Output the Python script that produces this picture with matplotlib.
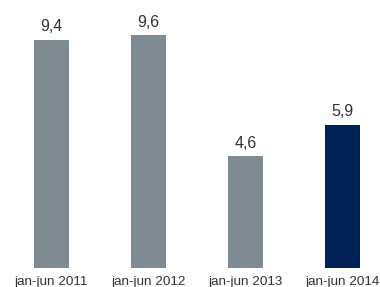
import matplotlib
matplotlib.use("Agg")
import matplotlib.pyplot as plt

categories = ["jan-jun 2011", "jan-jun 2012", "jan-jun 2013", "jan-jun 2014"]
values = [9.4, 9.6, 4.6, 5.9]
labels = ["9,4", "9,6", "4,6", "5,9"]
colors = ["#7f8b93", "#7f8b93", "#7f8b93", "#002257"]

plt.rcParams['font.family'] = ['Liberation Sans', 'DejaVu Sans']

fig = plt.figure(figsize=(3.8, 2.87), dpi=100)
ax = fig.add_axes([0, 19/287, 1, 268/287])
x = list(range(len(categories)))
bars = ax.bar(x, values, width=0.36, color=colors)
for xi, v, lab in zip(x, values, labels):
    ax.annotate(lab, (xi, v), xytext=(0, 4), textcoords="offset points",
                ha="center", va="bottom", fontsize=11.5, color="#333333")
ax.set_xlim(-0.531, 3.387)
ax.set_ylim(0, 11.05)
ax.set_xticks(x)
ax.set_xticklabels(categories, fontsize=9.7, color="#333333")
ax.tick_params(axis="x", length=0, pad=6)
ax.set_yticks([])
for s in ax.spines.values():
    s.set_visible(False)
fig.savefig("out.png", dpi=100)
